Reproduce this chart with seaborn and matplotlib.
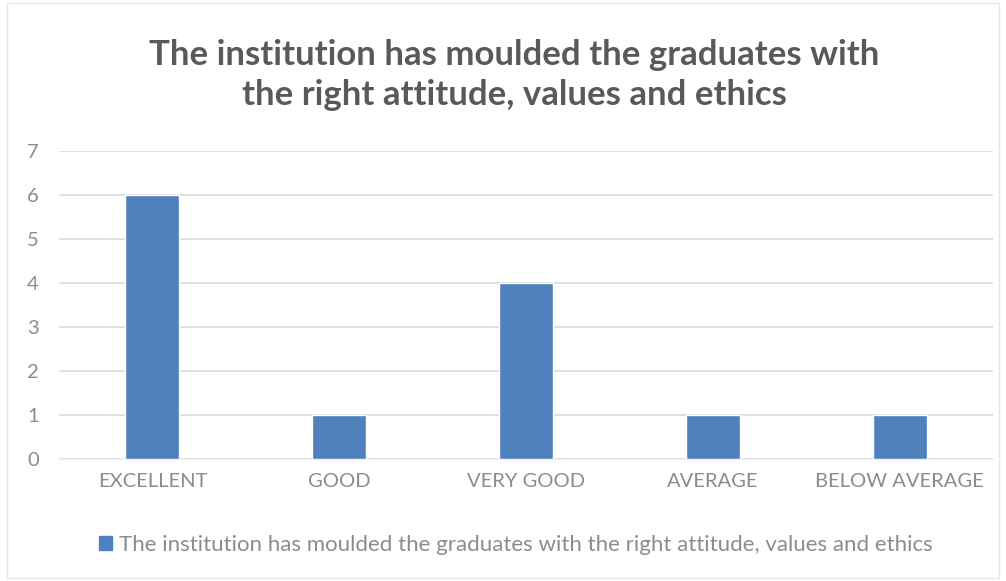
import matplotlib
matplotlib.use("Agg")
import matplotlib.pyplot as plt
import seaborn as sns
import pandas as pd
from matplotlib.patches import Rectangle

# --- Données ---
categories = ["EXCELLENT", "GOOD", "VERY GOOD", "AVERAGE", "BELOW AVERAGE"]
valeurs = [6, 1, 4, 1, 1]
serie = "The institution has moulded the graduates with the right attitude, values and ethics"
titre = "The institution has moulded the graduates with\nthe right attitude, values and ethics"

df = pd.DataFrame({"Categorie": categories, "Valeur": valeurs})

sns.set_style("white")
plt.rcParams["font.family"] = ["Lato", "DejaVu Sans"]

gris = "#595959"
gris_clair = "#8C8C8C"
bleu = "#4F81BD"

fig = plt.figure(figsize=(10.06, 5.81), dpi=100)
ax = fig.add_axes([59 / 1006, 1 - 459 / 581, (993 - 59) / 1006, (459 - 151) / 581])

sns.barplot(data=df, x="Categorie", y="Valeur", color=bleu, width=0.29,
            saturation=1, ax=ax, zorder=3)

ax.set_ylim(0, 7)
ax.set_yticks(range(0, 8))
ax.set_xlim(-0.5, len(categories) - 0.5)
ax.yaxis.grid(True, color="#D9D9D9", linewidth=1.2, zorder=0)
ax.set_xlabel("")
ax.set_ylabel("")
for s in ["top", "right", "left"]:
    ax.spines[s].set_visible(False)
ax.spines["bottom"].set_color("#F2F2F2")
ax.tick_params(axis="x", length=0, labelsize=14.5, colors=gris_clair, pad=10)
ax.tick_params(axis="y", length=0, labelsize=14.5, colors=gris_clair, pad=23)
for lab in ax.get_yticklabels():
    lab.set_horizontalalignment("left")

fig.text(514 / 1006, 1 - 75 / 581, titre, ha="center", va="center", fontsize=25,
         fontweight="bold", color=gris, linespacing=1.3)

# --- Légende ---
leg = ax.legend(handles=[Rectangle((0, 0), 1, 1, color=bleu)], labels=[serie],
                loc="center", bbox_to_anchor=(516 / 1006, 1 - 545 / 581), bbox_transform=fig.transFigure,
                frameon=False, fontsize=16, handlelength=0.6, handleheight=0.6,
                handletextpad=0.3)
for t in leg.get_texts():
    t.set_color(gris_clair)

# bordure du graphique
fig.patches.append(Rectangle((7 / 1006, 0.005), 1 - 14 / 1006, 0.99, transform=fig.transFigure,
                             fill=False, edgecolor="#E6E6E6", linewidth=1))

fig.savefig("out.png", dpi=100)
